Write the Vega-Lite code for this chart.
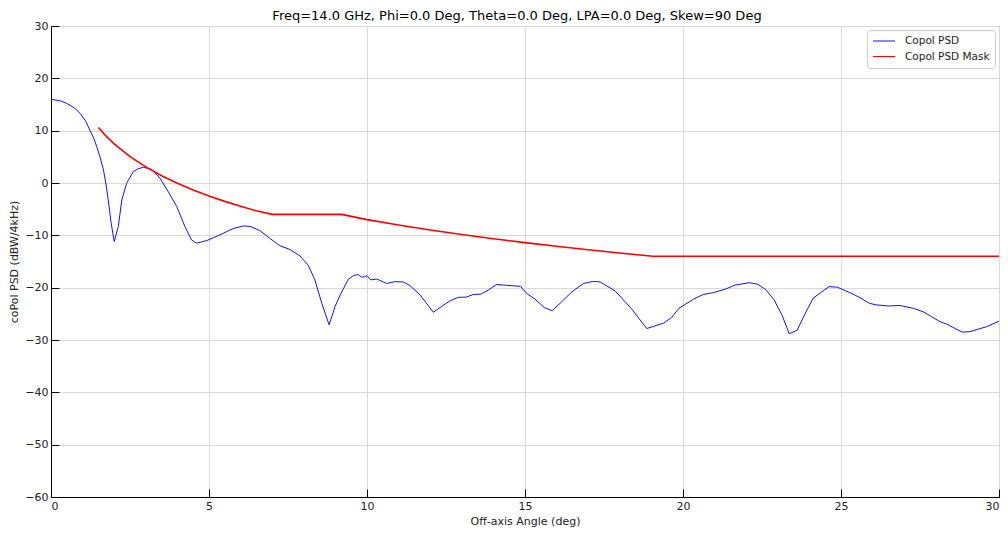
{
  "$schema": "https://vega.github.io/schema/vega-lite/v6.json",
  "width": 948,
  "height": 471,
  "autosize": {"type": "none"},
  "padding": {"left": 51, "top": 26, "right": 9, "bottom": 37},
  "title": {
    "text": "Freq=14.0 GHz, Phi=0.0 Deg, Theta=0.0 Deg, LPA=0.0 Deg, Skew=90 Deg",
    "font": "DejaVu Sans",
    "fontSize": 13,
    "fontWeight": "normal",
    "color": "#000000",
    "anchor": "middle",
    "frame": "group",
    "offset": 5,
    "dx": -8,
    "dy": 8
  },
  "config": {
    "font": "DejaVu Sans",
    "view": {"stroke": "#555555", "strokeWidth": 1},
    "axis": {
      "labelFont": "DejaVu Sans",
      "labelFontSize": 11,
      "labelColor": "#222222",
      "titleFont": "DejaVu Sans",
      "titleFontSize": 11,
      "titleFontWeight": "normal",
      "titleColor": "#222222",
      "domainColor": "#000000",
      "domainWidth": 1,
      "tickColor": "#000000",
      "tickSize": -8,
      "tickWidth": 1,
      "labelPadding": 11,
      "gridColor": "#d9d9d9",
      "gridWidth": 1
    },
    "legend": {
      "labelFont": "DejaVu Sans",
      "labelFontSize": 10.5,
      "labelColor": "#222222"
    }
  },
  "data": {
    "values": [
      {"x": 0.0, "y": 16.0, "series": "Copol PSD"},
      {"x": 0.3, "y": 15.7, "series": "Copol PSD"},
      {"x": 0.5, "y": 15.2, "series": "Copol PSD"},
      {"x": 0.75, "y": 14.3, "series": "Copol PSD"},
      {"x": 0.92, "y": 13.3, "series": "Copol PSD"},
      {"x": 1.1, "y": 11.8, "series": "Copol PSD"},
      {"x": 1.23, "y": 10.1, "series": "Copol PSD"},
      {"x": 1.35, "y": 8.6, "series": "Copol PSD"},
      {"x": 1.45, "y": 6.9, "series": "Copol PSD"},
      {"x": 1.56, "y": 4.8, "series": "Copol PSD"},
      {"x": 1.66, "y": 2.5, "series": "Copol PSD"},
      {"x": 1.74, "y": -0.2, "series": "Copol PSD"},
      {"x": 1.81, "y": -3.2, "series": "Copol PSD"},
      {"x": 1.9, "y": -7.5, "series": "Copol PSD"},
      {"x": 2.0, "y": -11.2, "series": "Copol PSD"},
      {"x": 2.13, "y": -8.3, "series": "Copol PSD"},
      {"x": 2.24, "y": -3.25, "series": "Copol PSD"},
      {"x": 2.39, "y": -0.1, "series": "Copol PSD"},
      {"x": 2.6, "y": 2.15, "series": "Copol PSD"},
      {"x": 2.75, "y": 2.7, "series": "Copol PSD"},
      {"x": 2.92, "y": 3.0, "series": "Copol PSD"},
      {"x": 3.19, "y": 2.6, "series": "Copol PSD"},
      {"x": 3.45, "y": 0.9, "series": "Copol PSD"},
      {"x": 3.71, "y": -1.65, "series": "Copol PSD"},
      {"x": 3.98, "y": -4.5, "series": "Copol PSD"},
      {"x": 4.24, "y": -8.35, "series": "Copol PSD"},
      {"x": 4.45, "y": -10.9, "series": "Copol PSD"},
      {"x": 4.61, "y": -11.5, "series": "Copol PSD"},
      {"x": 4.93, "y": -11.0, "series": "Copol PSD"},
      {"x": 5.35, "y": -9.9, "series": "Copol PSD"},
      {"x": 5.77, "y": -8.7, "series": "Copol PSD"},
      {"x": 6.09, "y": -8.2, "series": "Copol PSD"},
      {"x": 6.3, "y": -8.3, "series": "Copol PSD"},
      {"x": 6.61, "y": -9.1, "series": "Copol PSD"},
      {"x": 6.93, "y": -10.6, "series": "Copol PSD"},
      {"x": 7.25, "y": -12.0, "series": "Copol PSD"},
      {"x": 7.56, "y": -12.7, "series": "Copol PSD"},
      {"x": 7.88, "y": -13.95, "series": "Copol PSD"},
      {"x": 8.14, "y": -15.7, "series": "Copol PSD"},
      {"x": 8.35, "y": -18.5, "series": "Copol PSD"},
      {"x": 8.57, "y": -23.0, "series": "Copol PSD"},
      {"x": 8.8, "y": -27.1, "series": "Copol PSD"},
      {"x": 8.99, "y": -23.6, "series": "Copol PSD"},
      {"x": 9.15, "y": -21.4, "series": "Copol PSD"},
      {"x": 9.41, "y": -18.4, "series": "Copol PSD"},
      {"x": 9.57, "y": -17.7, "series": "Copol PSD"},
      {"x": 9.73, "y": -17.5, "series": "Copol PSD"},
      {"x": 9.83, "y": -18.0, "series": "Copol PSD"},
      {"x": 9.93, "y": -17.9, "series": "Copol PSD"},
      {"x": 10.0, "y": -17.7, "series": "Copol PSD"},
      {"x": 10.12, "y": -18.5, "series": "Copol PSD"},
      {"x": 10.31, "y": -18.35, "series": "Copol PSD"},
      {"x": 10.62, "y": -19.2, "series": "Copol PSD"},
      {"x": 10.89, "y": -18.85, "series": "Copol PSD"},
      {"x": 11.15, "y": -18.9, "series": "Copol PSD"},
      {"x": 11.36, "y": -19.6, "series": "Copol PSD"},
      {"x": 11.68, "y": -21.4, "series": "Copol PSD"},
      {"x": 12.1, "y": -24.7, "series": "Copol PSD"},
      {"x": 12.36, "y": -23.6, "series": "Copol PSD"},
      {"x": 12.63, "y": -22.5, "series": "Copol PSD"},
      {"x": 12.89, "y": -21.85, "series": "Copol PSD"},
      {"x": 13.15, "y": -21.8, "series": "Copol PSD"},
      {"x": 13.36, "y": -21.3, "series": "Copol PSD"},
      {"x": 13.6, "y": -21.25, "series": "Copol PSD"},
      {"x": 13.84, "y": -20.45, "series": "Copol PSD"},
      {"x": 14.1, "y": -19.4, "series": "Copol PSD"},
      {"x": 14.42, "y": -19.55, "series": "Copol PSD"},
      {"x": 14.86, "y": -19.75, "series": "Copol PSD"},
      {"x": 15.05, "y": -21.1, "series": "Copol PSD"},
      {"x": 15.32, "y": -22.2, "series": "Copol PSD"},
      {"x": 15.61, "y": -23.8, "series": "Copol PSD"},
      {"x": 15.86, "y": -24.4, "series": "Copol PSD"},
      {"x": 16.16, "y": -22.7, "series": "Copol PSD"},
      {"x": 16.48, "y": -20.8, "series": "Copol PSD"},
      {"x": 16.85, "y": -19.2, "series": "Copol PSD"},
      {"x": 17.16, "y": -18.8, "series": "Copol PSD"},
      {"x": 17.37, "y": -18.9, "series": "Copol PSD"},
      {"x": 17.85, "y": -20.6, "series": "Copol PSD"},
      {"x": 18.38, "y": -24.1, "series": "Copol PSD"},
      {"x": 18.85, "y": -27.8, "series": "Copol PSD"},
      {"x": 19.38, "y": -26.8, "series": "Copol PSD"},
      {"x": 19.64, "y": -25.7, "series": "Copol PSD"},
      {"x": 19.87, "y": -23.95, "series": "Copol PSD"},
      {"x": 20.33, "y": -22.2, "series": "Copol PSD"},
      {"x": 20.64, "y": -21.3, "series": "Copol PSD"},
      {"x": 20.96, "y": -20.95, "series": "Copol PSD"},
      {"x": 21.33, "y": -20.3, "series": "Copol PSD"},
      {"x": 21.65, "y": -19.5, "series": "Copol PSD"},
      {"x": 22.1, "y": -19.05, "series": "Copol PSD"},
      {"x": 22.37, "y": -19.35, "series": "Copol PSD"},
      {"x": 22.62, "y": -20.4, "series": "Copol PSD"},
      {"x": 22.88, "y": -22.3, "series": "Copol PSD"},
      {"x": 23.13, "y": -25.2, "series": "Copol PSD"},
      {"x": 23.36, "y": -28.8, "series": "Copol PSD"},
      {"x": 23.61, "y": -28.15, "series": "Copol PSD"},
      {"x": 23.86, "y": -25.0, "series": "Copol PSD"},
      {"x": 24.12, "y": -22.0, "series": "Copol PSD"},
      {"x": 24.62, "y": -19.8, "series": "Copol PSD"},
      {"x": 24.88, "y": -19.9, "series": "Copol PSD"},
      {"x": 25.28, "y": -20.95, "series": "Copol PSD"},
      {"x": 25.6, "y": -21.9, "series": "Copol PSD"},
      {"x": 25.9, "y": -23.0, "series": "Copol PSD"},
      {"x": 26.13, "y": -23.3, "series": "Copol PSD"},
      {"x": 26.5, "y": -23.5, "series": "Copol PSD"},
      {"x": 26.87, "y": -23.4, "series": "Copol PSD"},
      {"x": 27.29, "y": -23.95, "series": "Copol PSD"},
      {"x": 27.6, "y": -24.6, "series": "Copol PSD"},
      {"x": 27.87, "y": -25.55, "series": "Copol PSD"},
      {"x": 28.13, "y": -26.5, "series": "Copol PSD"},
      {"x": 28.34, "y": -26.95, "series": "Copol PSD"},
      {"x": 28.61, "y": -27.8, "series": "Copol PSD"},
      {"x": 28.85, "y": -28.5, "series": "Copol PSD"},
      {"x": 29.08, "y": -28.4, "series": "Copol PSD"},
      {"x": 29.61, "y": -27.45, "series": "Copol PSD"},
      {"x": 30.0, "y": -26.4, "series": "Copol PSD"},
      {"x": 1.5, "y": 10.6, "series": "Copol PSD Mask"},
      {"x": 1.75, "y": 8.92, "series": "Copol PSD Mask"},
      {"x": 2.0, "y": 7.47, "series": "Copol PSD Mask"},
      {"x": 2.5, "y": 5.05, "series": "Copol PSD Mask"},
      {"x": 3.0, "y": 3.07, "series": "Copol PSD Mask"},
      {"x": 3.5, "y": 1.4, "series": "Copol PSD Mask"},
      {"x": 4.0, "y": -0.05, "series": "Copol PSD Mask"},
      {"x": 4.5, "y": -1.33, "series": "Copol PSD Mask"},
      {"x": 5.0, "y": -2.47, "series": "Copol PSD Mask"},
      {"x": 5.5, "y": -3.51, "series": "Copol PSD Mask"},
      {"x": 6.0, "y": -4.45, "series": "Copol PSD Mask"},
      {"x": 6.5, "y": -5.32, "series": "Copol PSD Mask"},
      {"x": 7.0, "y": -6.0, "series": "Copol PSD Mask"},
      {"x": 9.2, "y": -6.0, "series": "Copol PSD Mask"},
      {"x": 10.0, "y": -7.0, "series": "Copol PSD Mask"},
      {"x": 11.0, "y": -8.03, "series": "Copol PSD Mask"},
      {"x": 12.0, "y": -8.98, "series": "Copol PSD Mask"},
      {"x": 13.0, "y": -9.85, "series": "Copol PSD Mask"},
      {"x": 14.0, "y": -10.65, "series": "Copol PSD Mask"},
      {"x": 15.0, "y": -11.4, "series": "Copol PSD Mask"},
      {"x": 16.0, "y": -12.1, "series": "Copol PSD Mask"},
      {"x": 17.0, "y": -12.76, "series": "Copol PSD Mask"},
      {"x": 18.0, "y": -13.38, "series": "Copol PSD Mask"},
      {"x": 19.05, "y": -14.0, "series": "Copol PSD Mask"},
      {"x": 30.0, "y": -14.0, "series": "Copol PSD Mask"}
    ]
  },
  "encoding": {
    "x": {
      "field": "x",
      "type": "quantitative",
      "scale": {"domain": [0, 30], "nice": false, "zero": false},
      "axis": {"values": [0, 5, 10, 15, 20, 25, 30], "title": "Off-axis Angle (deg)", "titlePadding": 4}
    },
    "y": {
      "field": "y",
      "type": "quantitative",
      "scale": {"domain": [-60, 30], "nice": false, "zero": false},
      "axis": {"values": [-60, -50, -40, -30, -20, -10, 0, 10, 20, 30], "title": "coPol PSD (dBW/4kHz)", "titlePadding": 5}
    },
    "color": {
      "field": "series",
      "type": "nominal",
      "scale": {"domain": ["Copol PSD", "Copol PSD Mask"], "range": ["#1010ff", "#ff0000"]},
      "legend": {
        "title": null,
        "orient": "none",
        "legendX": 816,
        "legendY": 4,
        "symbolType": "stroke",
        "symbolSize": 484,
        "symbolStrokeWidth": 1.2,
        "clipHeight": 12,
        "strokeColor": "#cccccc",
        "fillColor": "#ffffff",
        "cornerRadius": 3,
        "padding": 5,
        "rowPadding": 3.5,
        "labelOffset": 9
      }
    },
    "order": {"field": "x", "type": "quantitative"}
  },
  "layer": [
    {
      "transform": [{"filter": "datum.series === 'Copol PSD'"}],
      "mark": {"type": "line", "strokeWidth": 1}
    },
    {
      "transform": [{"filter": "datum.series === 'Copol PSD Mask'"}],
      "mark": {"type": "line", "strokeWidth": 1.6}
    }
  ]
}
